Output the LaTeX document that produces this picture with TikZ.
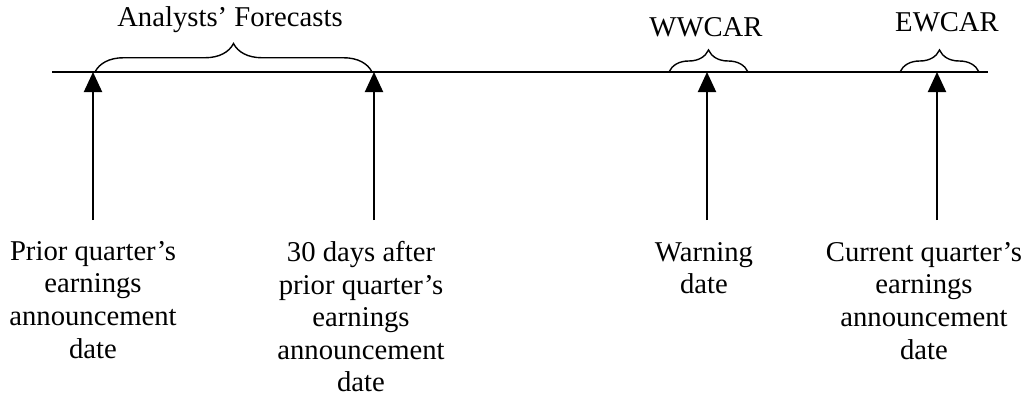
\documentclass[tikz,border=0pt]{standalone}
\usepackage{fontspec}
\setmainfont{Liberation Serif}
\usetikzlibrary{arrows.meta, decorations.pathreplacing, positioning}

\tikzset{
  axis/.style={line width=1pt},
  datearrow/.style={line width=1.4pt, -{Triangle[width=4.5mm, length=5mm]}},
  window/.style={line width=1pt, decorate, decoration={brace, amplitude=#1}},
  datelabel/.style={align=center, anchor=north, inner sep=0pt},
  windowlabel/.style={anchor=base, inner sep=0pt}
}

\begin{document}
\begin{tikzpicture}[x=0.25mm, y=-0.25mm,
  every node/.style={font=\fontsize{20.4}{23.2}\selectfont}]
  \useasboundingbox (0,0) rectangle (1027,398);

  % time line
  \coordinate (start) at (52,72);
  \coordinate (stop) at (988,72);
  \draw[axis] (start) -- (stop);

  % dates on the line
  \coordinate (prior) at (93,72);
  \coordinate (thirty) at (374,72);
  \coordinate (warn) at (707,72);
  \coordinate (current) at (937,72);

  \coordinate (prior0) at (93,220);
  \coordinate (thirty0) at (374,220);
  \coordinate (warn0) at (707,220);
  \coordinate (current0) at (937,220);

  \draw[datearrow] (prior0) -- (prior);
  \draw[datearrow] (thirty0) -- (thirty);
  \draw[datearrow] (warn0) -- (warn);
  \draw[datearrow] (current0) -- (current);

  % windows
  \draw[window=28.5*0.25mm] (95,72) -- (372,72);
  \draw[window=22*0.25mm] (669,72) -- (748,72);
  \draw[window=22*0.25mm] (900,72) -- (979,72);

  \node[windowlabel] (forecasts) at (230,27) {Analysts’ Forecasts};
  \node[windowlabel] (wwcar) at (706,37) {WWCAR};
  \node[windowlabel] (ewcar) at (947,32) {EWCAR};

  % date labels
  \node[datelabel] (priorlabel) at (93,241)
    {Prior quarter’s\\earnings\\announcement\\date};
  \node[datelabel] (thirtylabel) at (361,241)
    {30 days after\\prior quarter’s\\earnings\\announcement\\date};
  \node[datelabel] (warnlabel) at (704,242)
    {Warning\\date};
  \node[datelabel] (currentlabel) at (924,242)
    {Current quarter’s\\earnings\\announcement\\date};
\end{tikzpicture}
\end{document}
